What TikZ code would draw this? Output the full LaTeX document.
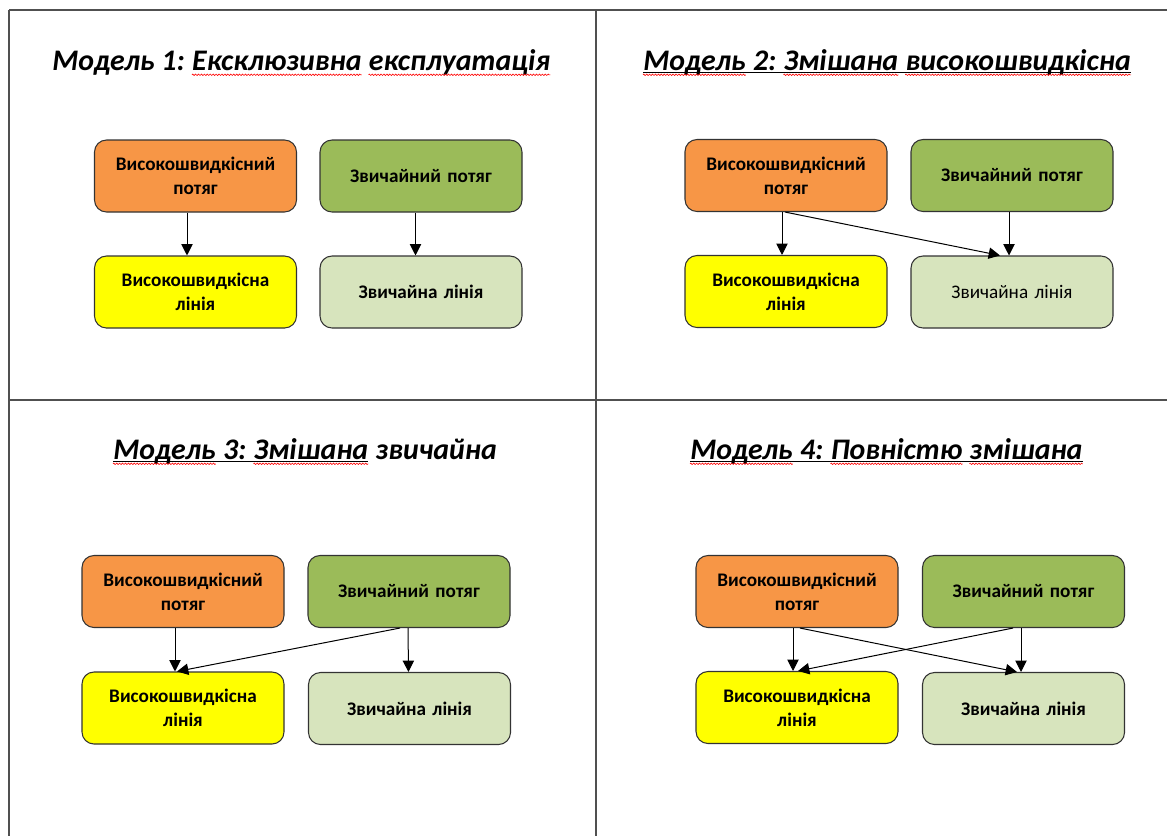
\documentclass[tikz,border=0pt]{standalone}
\usepackage{fontspec}
\setmainfont{Carlito}
\usetikzlibrary{arrows.meta,calc,decorations.pathmorphing}
\definecolor{orng}{HTML}{F79646}
\definecolor{grn}{HTML}{9BBB59}
\definecolor{yel}{HTML}{FFFF00}
\definecolor{lgrn}{HTML}{D7E4BD}
\definecolor{framec}{HTML}{505050}
\begin{document}
\begin{tikzpicture}[x=0.75pt,y=-0.75pt,
  box/.style={draw=black!80, line width=0.8pt, rounded corners=9pt,
    minimum width=151.5pt, minimum height=54pt, text width=140pt,
    align=center, inner sep=0pt,
    font=\fontsize{14.4}{18}\selectfont\bfseries},
  plain/.style={font=\fontsize{14.4}{18}\selectfont},
  title/.style={font=\fontsize{22.4}{26}\selectfont\bfseries\itshape, inner sep=0pt, anchor=base west},
  arr/.style={-{Triangle[length=8.5pt,width=8.5pt]}, line width=0.75pt, black},
  frame/.style={line width=1.3pt, draw=framec},
  uline/.style={line width=1.1pt, black},
  wave/.style={red, line width=0.45pt, decorate,
    decoration={zigzag, segment length=2.2pt, amplitude=0.55pt}}]
\useasboundingbox (0,0) rectangle (1167,836);
\fill[white] (0,0) rectangle (1167,836);
% frame
\draw[frame] (9,10) -- (1167,10);
\draw[frame] (9,10) -- (9,836);
\draw[frame] (596,10) -- (596,836);
\draw[frame] (9,400) -- (1167,400);

% ---------- title 1 ----------
\node[title] (t1a) at (52,70) {Модель 1:};
\node[title] (t1b) at ($(t1a.base east)+(6.8,0)$) {Ексклюзивна};
\node[title] (t1c) at ($(t1b.base east)+(6.8,0)$) {експлуатація};
\draw[wave] ($(t1b.base west)+(0,4.8)$) -- ($(t1b.base east)+(0,4.8)$);
\draw[wave] ($(t1c.base west)+(0,4.8)$) -- ($(t1c.base east)+(0,4.8)$);

% ---------- title 2 ----------
\node[title] (t2a) at (643,70) {Модель};
\node[title] (t2b) at ($(t2a.base east)+(6.8,0)$) {2:};
\node[title] (t2c) at ($(t2b.base east)+(6.8,0)$) {Змішана};
\node[title] (t2d) at ($(t2c.base east)+(6.8,0)$) {високошвидкісна};
\draw[uline] ($(t2a.base west)+(0,2.6)$) -- ($(t2d.base east)+(0,2.6)$);
\draw[wave] ($(t2a.base west)+(0,4.8)$) -- ($(t2a.base east)+(0,4.8)$);
\draw[wave] ($(t2c.base west)+(0,4.8)$) -- ($(t2c.base east)+(0,4.8)$);
\draw[wave] ($(t2d.base west)+(0,4.8)$) -- ($(t2d.base east)+(0,4.8)$);

% ---------- title 3 ----------
\node[title] (t3a) at (113,459) {Модель};
\node[title] (t3b) at ($(t3a.base east)+(6.8,0)$) {3:};
\node[title] (t3c) at ($(t3b.base east)+(6.8,0)$) {Змішана};
\node[title] (t3d) at ($(t3c.base east)+(6.8,0)$) {звичайна};
\draw[uline] ($(t3a.base west)+(0,2.6)$) -- ($(t3c.base east)+(0,2.6)$);
\draw[wave] ($(t3a.base west)+(0,4.8)$) -- ($(t3a.base east)+(0,4.8)$);
\draw[wave] ($(t3c.base west)+(0,4.8)$) -- ($(t3c.base east)+(0,4.8)$);

% ---------- title 4 ----------
\node[title] (t4a) at (690,459) {Модель};
\node[title] (t4b) at ($(t4a.base east)+(6.8,0)$) {4:};
\node[title] (t4c) at ($(t4b.base east)+(6.8,0)$) {Повністю};
\node[title] (t4d) at ($(t4c.base east)+(6.8,0)$) {змішана};
\draw[uline] ($(t4a.base west)+(0,2.6)$) -- ($(t4d.base east)+(0,2.6)$);
\draw[wave] ($(t4a.base west)+(0,4.8)$) -- ($(t4a.base east)+(0,4.8)$);
\draw[wave] ($(t4c.base west)+(0,4.8)$) -- ($(t4c.base east)+(0,4.8)$);
\draw[wave] ($(t4d.base west)+(0,4.8)$) -- ($(t4d.base east)+(0,4.8)$);

% ---------- panel 1 ----------
\node[box, fill=orng] (a1) at (195.5,176) {Високошвидкісний\\потяг};
\node[box, fill=grn]  (b1) at (421,176) {Звичайний потяг};
\node[box, fill=yel]  (c1) at (195.5,292) {Високошвидкісна\\лінія};
\node[box, fill=lgrn] (d1) at (421,292) {Звичайна лінія};
\draw[arr] ($(a1.south)+(-8.5,0)$) -- ($(c1.north)+(-8.5,0)$);
\draw[arr] ($(b1.south)+(-5.5,0)$) -- ($(d1.north)+(-5.5,0)$);

% ---------- panel 2 ----------
\node[box, fill=orng] (a2) at (786,175.5) {Високошвидкісний\\потяг};
\node[box, fill=grn]  (b2) at (1012,175.5) {Звичайний потяг};
\node[box, fill=yel]  (c2) at (786,291.5) {Високошвидкісна\\лінія};
\node[box, fill=lgrn, plain] (d2) at (1012,292) {Звичайна лінія};
\draw[arr] ($(a2.south)+(-4,0)$) -- ($(c2.north)+(-4,0)$);
\draw[arr] ($(a2.south)+(-1,0)$) -- ($(d2.north)+(-12,0)$);
\draw[arr] ($(b2.south)+(-3,0)$) -- ($(d2.north)+(-3,0)$);

% ---------- panel 3 ----------
\node[box, fill=orng] (a3) at (183,591.5) {Високошвидкісний\\потяг};
\node[box, fill=grn]  (b3) at (409,591.5) {Звичайний потяг};
\node[box, fill=yel]  (c3) at (183,708) {Високошвидкісна\\лінія};
\node[box, fill=lgrn] (d3) at (409.5,708.5) {Звичайна лінія};
\draw[arr] ($(a3.south)+(-8,0)$) -- ($(c3.north)+(-8,0)$);
\draw[arr] ($(b3.south)+(-9,0)$) -- ($(c3.north)+(-6,0)$);
\draw[arr] ($(b3.south)+(-1,0)$) -- ($(d3.north)+(-1,0)$);

% ---------- panel 4 ----------
\node[box, fill=orng] (a4) at (797,591.5) {Високошвидкісний\\потяг};
\node[box, fill=grn]  (b4) at (1023.5,591.5) {Звичайний потяг};
\node[box, fill=yel]  (c4) at (797,707.5) {Високошвидкісна\\лінія};
\node[box, fill=lgrn] (d4) at (1023.5,708.5) {Звичайна лінія};
\draw[arr] ($(a4.south)+(-4,0)$) -- ($(c4.north)+(-4,0)$);
\draw[arr] ($(a4.south)+(3,0)$) -- ($(d4.north)+(-6.5,0)$);
\draw[arr] ($(b4.south)+(-2.5,0)$) -- ($(d4.north)+(-2.5,0)$);
\draw[arr] ($(b4.south)+(-10.5,0)$) -- ($(c4.north)+(1,0)$);
\end{tikzpicture}
\end{document}
